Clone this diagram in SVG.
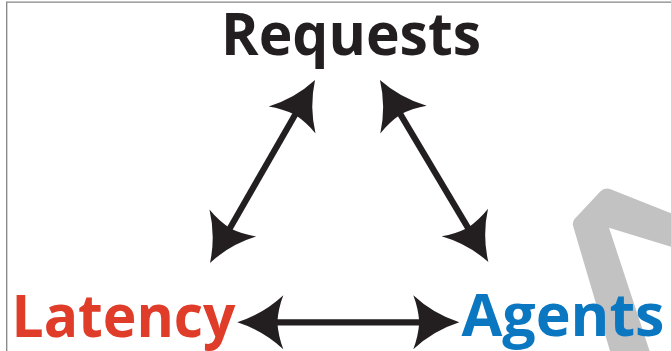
<svg xmlns="http://www.w3.org/2000/svg" width="671" height="351" viewBox="0 0 671 351">
<style>
.lbl{font-family:"Open Sans","Noto Sans","Liberation Sans",sans-serif;font-weight:700;font-size:58.5px}
.shaft{stroke:#231f20;stroke-width:6.2;fill:none;marker-start:url(#ah);marker-end:url(#ah)}
</style>
<defs>
<marker id="ah" markerUnits="userSpaceOnUse" orient="auto-start-reverse" refX="0" refY="0" markerWidth="1" markerHeight="1" overflow="visible">
<path d="M38,0 Q12,-8.3 -8,-27 Q-3,-14 -2,0 Q-3,14 -8,27 Q12,8.3 38,0 Z" fill="#231f20"/>
</marker>
</defs>
<rect width="671" height="351" fill="#ffffff"/>
<path d="M610,351 L573.3,226.7 Q571.5,221 576.7,216.7 L600,191.7 Q604,187.5 610,189 L672,213.7 L672,247 L609,227.7 L649.6,351 Z" fill="#c2c2c2"/>
<path d="M6.7,351 V2.2 H671" fill="none" stroke="#858585" stroke-width="1.3"/>
<g id="connectors">
<line class="shaft" x1="296.1" y1="113.0" x2="228.9" y2="230.0"/>
<line class="shaft" x1="399.4" y1="112.7" x2="468.9" y2="229.4"/>
<line class="shaft" x1="275.3" y1="322.3" x2="421.3" y2="322.3"/>
</g>
<g id="node-requests"><text class="lbl" x="221" y="54.5" fill="#231f20" textLength="260" lengthAdjust="spacingAndGlyphs">Requests</text></g>
<g id="node-latency"><text class="lbl" x="11.5" y="336.5" fill="#e03c2a" textLength="224" lengthAdjust="spacingAndGlyphs">Latency</text></g>
<g id="node-agents"><text class="lbl" x="461.5" y="336" fill="#0b77c1" textLength="203" lengthAdjust="spacingAndGlyphs">Agents</text></g>
</svg>
